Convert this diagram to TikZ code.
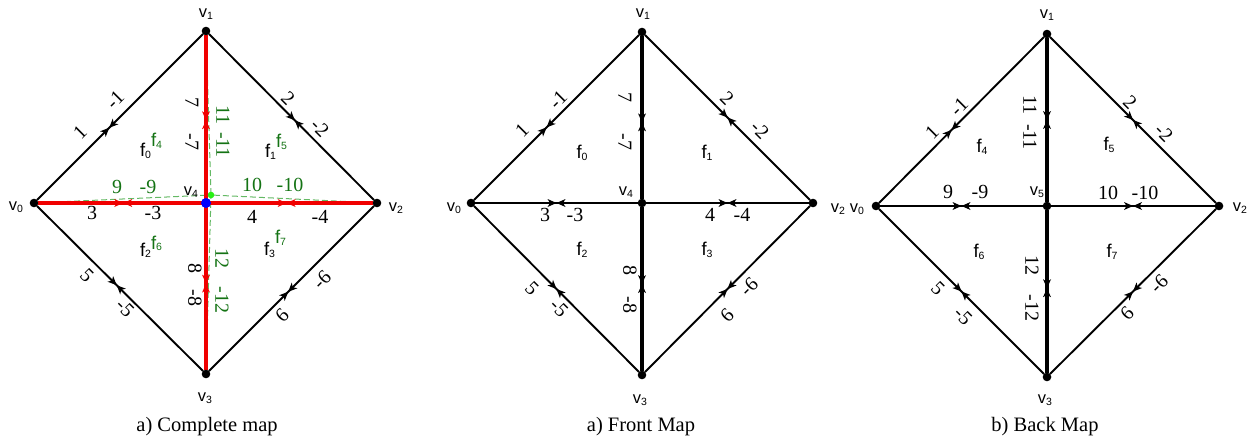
\documentclass[tikz,border=0pt]{standalone}
\usepackage{fontspec}
\setmainfont{Liberation Serif}
\newfontfamily\arialf{Liberation Sans}
\usetikzlibrary{decorations.markings}
\definecolor{dgreen}{RGB}{20,115,20}
\definecolor{lgreen}{RGB}{100,185,100}
\definecolor{bgreen}{RGB}{40,240,20}
\definecolor{pred}{RGB}{240,0,0}
\newcommand\mvl[1]{{\arialf\fontsize{16.5}{16.5}\selectfont v\raisebox{-1.5pt}{\fontsize{10.5}{10.5}\selectfont #1}}}
\newcommand\mfl[1]{{\arialf\fontsize{18.5}{18.5}\selectfont f\raisebox{-1.5pt}{\fontsize{10.5}{10.5}\selectfont #1}}}
\tikzset{
  vtx/.style={circle,inner sep=0pt,minimum size=8pt},
  edge/.style={line width=1.9pt,black},
  thickedge/.style={line width=3.2pt,black},
  redge/.style={line width=3.2pt,pred},
  gdash/.style={line width=1pt,lgreen,dash pattern=on 6pt off 3pt},
  meet/.style 2 args={postaction={decorate,decoration={markings,mark=at position #1 with {
      \fill[#2] (0pt,0pt) -- (-9pt,4pt) -- (-6.5pt,0pt) -- (-9pt,-4pt) -- cycle;
      \fill[#2] (0pt,0pt) -- (9pt,4pt) -- (6.5pt,0pt) -- (9pt,-4pt) -- cycle;}}}},
  lab/.style={inner sep=0pt,font=\fontsize{20}{20}\selectfont},
  glab/.style={lab,text=dgreen},
  vl/.style={inner sep=0pt},
  captxt/.style={inner sep=0pt,anchor=base,font=\fontsize{20.5}{20.5}\selectfont}
}
\begin{document}
\begin{tikzpicture}[x=1pt,y=-1pt]
\useasboundingbox (0,0) rectangle (1253,441);
% ================= LEFT: complete map =================
\node[vtx] (Lv0) at (34,203) {};
\node[vtx] (Lv1) at (206,31) {};
\node[vtx] (Lv2) at (377,203) {};
\node[vtx] (Lv3) at (206,374) {};
\node[vtx] (Lv4) at (206,203) {};
\node[circle,inner sep=0pt,minimum size=6pt] (Lg) at (211,195) {};
\draw[gdash] (Lv0) -- (Lg);
\draw[gdash] (Lv1) -- (Lg);
\draw[gdash] (Lv2) -- (Lg);
\draw[gdash] (Lv3) -- (Lg);
\draw[edge,meet={0.435}{black}] (Lv0) -- (Lv1);
\draw[edge,meet={0.52}{black}] (Lv1) -- (Lv2);
\draw[edge,meet={0.48}{black}] (Lv0) -- (Lv3);
\draw[edge,meet={0.48}{black}] (Lv3) -- (Lv2);
\draw[redge,meet={0.52}{pred}] (Lv0) -- (Lv4);
\draw[redge,meet={0.47}{pred}] (Lv4) -- (Lv2);
\draw[redge,meet={0.52}{pred}] (Lv1) -- (Lv4);
\draw[redge,meet={0.47}{pred}] (Lv4) -- (Lv3);
\fill (Lv0) circle[radius=4.3pt];
\fill (Lv1) circle[radius=4.3pt];
\fill (Lv2) circle[radius=4.3pt];
\fill (Lv3) circle[radius=4.3pt];
\fill[blue] (Lv4) circle[radius=5pt];
\fill[bgreen] (Lg) circle[radius=3.3pt];
\node[lab,rotate=45] (L1a) at (80,132) {1};
\node[lab,rotate=45] (L1b) at (115,100) {-1};
\node[lab,rotate=-45] (L2a) at (288,98) {2};
\node[lab,rotate=-45] (L2b) at (320,128) {-2};
\node[lab] (L3a) at (92,213) {3};
\node[lab] (L3b) at (153,213) {-3};
\node[lab] (L4a) at (252,217) {4};
\node[lab] (L4b) at (320,217) {-4};
\node[lab,rotate=-45] (L5a) at (87,275) {5};
\node[lab,rotate=-45] (L5b) at (125,308) {-5};
\node[lab,rotate=45] (L6a) at (282,315) {6};
\node[lab,rotate=45] (L6b) at (322,280) {-6};
\node[lab,rotate=-90] (L7a) at (192,103) {7};
\node[lab,rotate=-90] (L7b) at (192,142) {-7};
\node[lab,rotate=-90] (L8a) at (195,268) {8};
\node[lab,rotate=-90] (L8b) at (195,298) {-8};
\node[glab] (L9a) at (117,187) {9};
\node[glab] (L9b) at (148,187) {-9};
\node[glab] (L10a) at (252,185) {10};
\node[glab] (L10b) at (290,185) {-10};
\node[glab,rotate=-90] (L11a) at (223,115) {11};
\node[glab,rotate=-90] (L11b) at (223,145) {-11};
\node[glab,rotate=-90] (L12a) at (222,258) {12};
\node[glab,rotate=-90] (L12b) at (222,300) {-12};
\node[vl] (Lf0) at (151,146) {\mfl{0}\raisebox{10pt}{\color{dgreen}\mfl{4}}};
\node[vl] (Lf1) at (276,147) {\mfl{1}\raisebox{10pt}{\color{dgreen}\mfl{5}}};
\node[vl] (Lf2) at (151,247) {\mfl{2}\raisebox{7pt}{\color{dgreen}\mfl{6}}};
\node[vl] (Lf3) at (275,244) {\mfl{3}\raisebox{12pt}{\color{dgreen}\mfl{7}}};
\node[vl] (Ll0) at (16,207) {\mvl{0}};
\node[vl] (Ll1) at (206,14) {\mvl{1}};
\node[vl] (Ll2) at (396,208) {\mvl{2}};
\node[vl] (Ll3) at (205,398) {\mvl{3}};
\node[vl] (Ll4) at (191,192) {\mvl{4}};
\node[captxt] (C1) at (207,431) {a) Complete map};
% ================= MIDDLE: front map =================
\node[vtx] (Mv0) at (471,203) {};
\node[vtx] (Mv1) at (642,32) {};
\node[vtx] (Mv2) at (813,203) {};
\node[vtx] (Mv3) at (642,375) {};
\node[vtx] (Mv4) at (642,203) {};
\draw[edge,meet={0.44}{black}] (Mv0) -- (Mv1);
\draw[edge,meet={0.5}{black}] (Mv1) -- (Mv2);
\draw[edge,meet={0.5}{black}] (Mv0) -- (Mv3);
\draw[edge,meet={0.5}{black}] (Mv3) -- (Mv2);
\draw[edge,meet={0.5}{black}] (Mv0) -- (Mv4);
\draw[edge,meet={0.5}{black}] (Mv4) -- (Mv2);
\draw[thickedge,meet={0.53}{black}] (Mv1) -- (Mv4);
\draw[thickedge,meet={0.47}{black}] (Mv4) -- (Mv3);
\foreach \n in {Mv0,Mv1,Mv2,Mv3,Mv4} \fill (\n) circle[radius=4.3pt];
\node[lab,rotate=45] (M1a) at (522,130) {1};
\node[lab,rotate=45] (M1b) at (558,100) {-1};
\node[lab,rotate=-45] (M2a) at (727,98) {2};
\node[lab,rotate=-45] (M2b) at (760,130) {-2};
\node[lab] (M3a) at (545,215) {3};
\node[lab] (M3b) at (575,215) {-3};
\node[lab] (M4a) at (710,215) {4};
\node[lab] (M4b) at (742,215) {-4};
\node[lab,rotate=-45] (M5a) at (532,288) {5};
\node[lab,rotate=-45] (M5b) at (559,308) {-5};
\node[lab,rotate=45] (M6a) at (727,315) {6};
\node[lab,rotate=45] (M6b) at (749,287) {-6};
\node[lab,rotate=-90] (M7a) at (625,98) {7};
\node[lab,rotate=-90] (M7b) at (625,142) {-7};
\node[lab,rotate=-90] (M8a) at (630,270) {8};
\node[lab,rotate=-90] (M8b) at (630,305) {-8};
\node[vl] (Mf0) at (582,153) {\mfl{0}};
\node[vl] (Mf1) at (707,153) {\mfl{1}};
\node[vl] (Mf2) at (582,250) {\mfl{2}};
\node[vl] (Mf3) at (707,250) {\mfl{3}};
\node[vl] (Ml0) at (454,208) {\mvl{0}};
\node[vl] (Ml1) at (643,14) {\mvl{1}};
\node[vl] (Ml2) at (838,209) {\mvl{2}};
\node[vl] (Ml3) at (640,400) {\mvl{3}};
\node[vl] (Ml4) at (626,192) {\mvl{4}};
\node[captxt] (C2) at (641,431) {a) Front Map};
% ================= RIGHT: back map =================
\node[vtx] (Rv0) at (876,206) {};
\node[vtx] (Rv1) at (1047,34) {};
\node[vtx] (Rv2) at (1219,206) {};
\node[vtx] (Rv3) at (1047,377) {};
\node[vtx] (Rv5) at (1047,206) {};
\draw[edge,meet={0.44}{black}] (Rv0) -- (Rv1);
\draw[edge,meet={0.5}{black}] (Rv1) -- (Rv2);
\draw[edge,meet={0.5}{black}] (Rv0) -- (Rv3);
\draw[edge,meet={0.5}{black}] (Rv3) -- (Rv2);
\draw[edge,meet={0.5}{black}] (Rv0) -- (Rv5);
\draw[edge,meet={0.5}{black}] (Rv5) -- (Rv2);
\draw[thickedge,meet={0.5}{black}] (Rv1) -- (Rv5);
\draw[thickedge,meet={0.48}{black}] (Rv5) -- (Rv3);
\foreach \n in {Rv0,Rv1,Rv2,Rv3,Rv5} \fill (\n) circle[radius=4.3pt];
\node[lab,rotate=45] (R1a) at (932,132) {1};
\node[lab,rotate=45] (R1b) at (959,107) {-1};
\node[lab,rotate=-45] (R2a) at (1130,102) {2};
\node[lab,rotate=-45] (R2b) at (1164,133) {-2};
\node[lab] (R9a) at (948,192) {9};
\node[lab] (R9b) at (980,192) {-9};
\node[lab] (R10a) at (1108,193) {10};
\node[lab] (R10b) at (1145,193) {-10};
\node[lab,rotate=-90] (R11a) at (1030,105) {11};
\node[lab,rotate=-90] (R11b) at (1030,137) {-11};
\node[lab,rotate=-90] (R12a) at (1032,265) {12};
\node[lab,rotate=-90] (R12b) at (1032,308) {-12};
\node[lab,rotate=-45] (R5a) at (938,288) {5};
\node[lab,rotate=-45] (R5b) at (963,316) {-5};
\node[lab,rotate=45] (R6a) at (1127,313) {6};
\node[lab,rotate=45] (R6b) at (1159,284) {-6};
\node[vl] (Rf4) at (982,147) {\mfl{4}};
\node[vl] (Rf5) at (1109,145) {\mfl{5}};
\node[vl] (Rf6) at (979,252) {\mfl{6}};
\node[vl] (Rf7) at (1112,252) {\mfl{7}};
\node[vl] (Rl0) at (857,209) {\mvl{0}};
\node[vl] (Rl1) at (1047,15) {\mvl{1}};
\node[vl] (Rl2) at (1240,208) {\mvl{2}};
\node[vl] (Rl3) at (1045,400) {\mvl{3}};
\node[vl] (Rl5) at (1037,192) {\mvl{5}};
\node[captxt] (C3) at (1045,431) {b) Back Map};
\end{tikzpicture}
\end{document}
